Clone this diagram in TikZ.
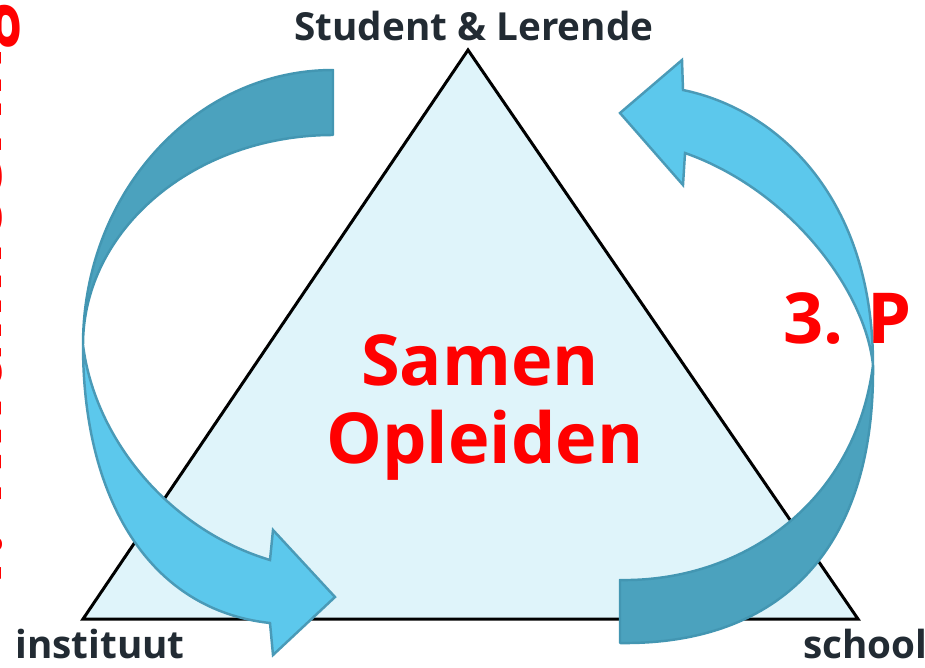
\documentclass[tikz,border=0pt]{standalone}
\usepackage{fontspec}
\setmainfont{Open Sans}
\definecolor{trifill}{HTML}{DFF4FA}
\definecolor{darkband}{HTML}{4BA2BE}
\definecolor{darkedge}{HTML}{4396B2}
\definecolor{lightband}{HTML}{5CC8EC}
\definecolor{lightedge}{HTML}{4A9AB7}
\definecolor{labelgray}{HTML}{222B33}
\definecolor{bigred}{HTML}{FF0000}
\tikzset{
  tri/.style={fill=trifill, draw=black, line width=1.7pt, line join=miter},
  backband/.style={fill=darkband, draw=darkedge, line width=1.4pt, line join=round},
  frontband/.style={fill=lightband, draw=lightedge, line width=1.4pt, line join=miter},
  corner/.style={font=\bfseries\fontsize{22}{26}\selectfont, text=labelgray, inner sep=0pt},
  bigtext/.style={font=\bfseries\fontsize{40}{44}\selectfont, text=bigred, inner sep=0pt},
  sidetext/.style={font=\bfseries\fontsize{44}{48}\selectfont, text=bigred, inner sep=0pt}
}
\begin{document}
\begin{tikzpicture}[x=0.02cm, y=-0.02cm]
\useasboundingbox (0,0) rectangle (925,667);
% triangle
\coordinate (apex) at (468,50);
\coordinate (bl) at (83,619);
\coordinate (br) at (858,619);
\draw[tri] (apex) -- (bl) -- (br) -- cycle;
% left curved arrow
\coordinate (lpinch) at (83,345);
\path[backband] (333,70) .. controls (195,70) and (83,193) .. (lpinch)
  .. controls (83,229) and (195,135) .. (333,135) -- cycle;
\path[frontband] (lpinch) .. controls (83,500) and (150,610) .. (270,623)
  -- (273,655) -- (335,597) -- (273,530) -- (270,560)
  .. controls (170,530) and (95,440) .. (lpinch) -- cycle;
% right curved arrow
\coordinate (rpinch) at (873,365);
\path[backband] (rpinch) .. controls (875,560) and (770,645) .. (620,643)
  -- (620,580) .. controls (740,582) and (855,505) .. (rpinch) -- cycle;
\path[frontband] (rpinch) .. controls (873,200) and (780,110) .. (683,90)
  -- (682,60) -- (620,113) -- (683,185) -- (685,153)
  .. controls (790,190) and (865,290) .. (rpinch) -- cycle;
% labels
\node[corner, anchor=base] (top) at (474,40) {Student \& Lerende};
\node[corner, anchor=base west] (inst) at (15,658) {instituut};
\node[corner, anchor=base west] (school) at (803,658) {school};
\node[bigtext, anchor=base] (samen) at (480,385) {Samen};
\node[bigtext, anchor=base] (opl) at (485,463) {Opleiden};
\node[bigtext, anchor=base west] (three) at (783,343) {3. P};
\node[sidetext, anchor=base west, rotate=90] (one) at (2,600) {1. Kwalificering};
\end{tikzpicture}
\end{document}
